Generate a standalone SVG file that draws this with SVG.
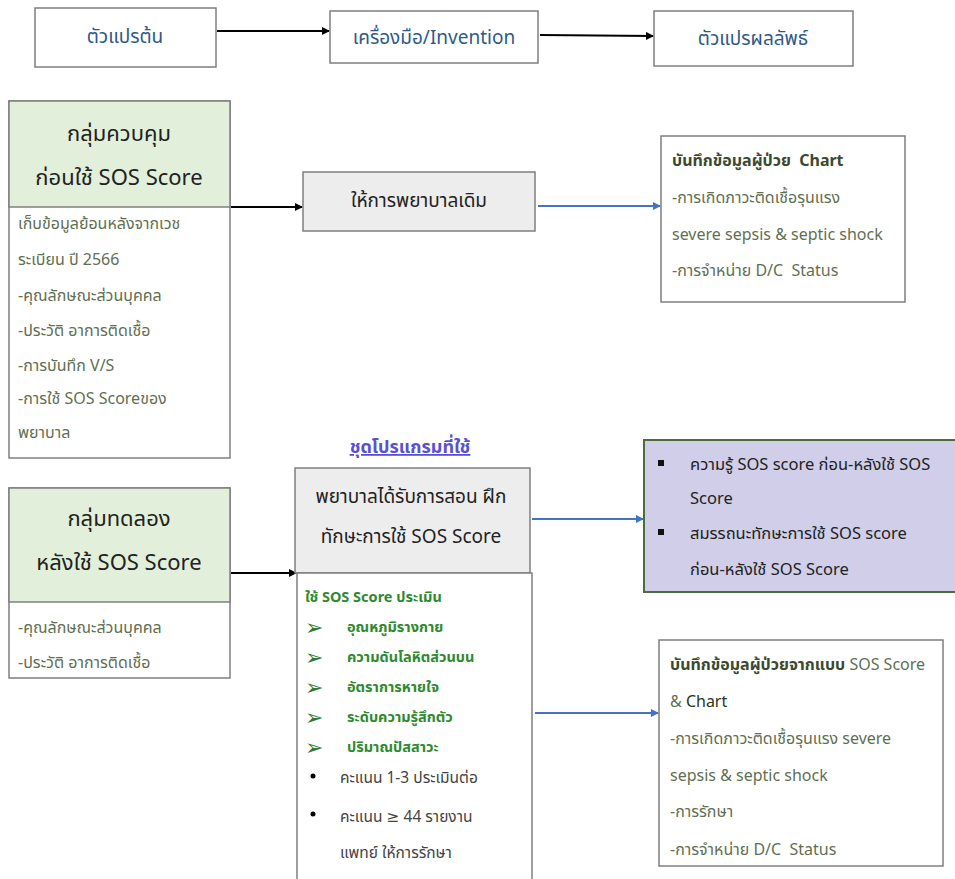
<svg xmlns="http://www.w3.org/2000/svg" width="955" height="879" viewBox="0 0 955 879">
<style>
text{font-family:"Noto Sans","Noto Sans Thai","DejaVu Sans",sans-serif;white-space:pre;}
.box{fill:#fff;stroke:#7f7f7f;stroke-width:1.5;}
.grey{fill:#ededed;stroke:#7f7f7f;stroke-width:1.5;}
.green{fill:#e2efda;stroke:#7f7f7f;stroke-width:1.5;}
.purple{fill:#d0cee8;stroke:#4e6b3c;stroke-width:2;}
.top{font-size:19px;fill:#2e5a88;text-anchor:middle;}
.head{font-size:22px;fill:#222;text-anchor:middle;}
.mid{font-size:19px;fill:#222;text-anchor:middle;}
.body{font-size:16px;fill:#5f6f52;}
.bold{font-size:16px;fill:#3b4a2e;font-weight:bold;}
.gb{font-size:14.5px;fill:#2f8a2f;font-weight:bold;}
.arr{font-size:22px;fill:#2f7a2f;}
.dk{font-size:15.5px;fill:#444;}
.pk{font-size:16.5px;fill:#222;}
.blk{stroke:#000;stroke-width:2;fill:none;}
.blu{stroke:#4472c4;stroke-width:2;fill:none;}
</style>
<defs>
<marker id="ab" markerWidth="8" markerHeight="8" refX="7" refY="4" orient="auto" markerUnits="userSpaceOnUse"><path d="M0,0 L8,4 L0,8 z" fill="#000"/></marker>
<marker id="au" markerWidth="8" markerHeight="8" refX="7" refY="4" orient="auto" markerUnits="userSpaceOnUse"><path d="M0,0 L8,4 L0,8 z" fill="#4472c4"/></marker>
</defs>

<g id="connectors">
<line class="blk" x1="217" y1="31" x2="329" y2="31" marker-end="url(#ab)"/>
<line class="blk" x1="540" y1="35" x2="653" y2="36" marker-end="url(#ab)"/>
<line class="blk" x1="231" y1="207" x2="302" y2="207" marker-end="url(#ab)"/>
<line class="blu" x1="538" y1="206" x2="660" y2="206" marker-end="url(#au)"/>
<line class="blk" x1="231" y1="573" x2="296" y2="573" marker-end="url(#ab)"/>
<line class="blu" x1="532" y1="519" x2="643" y2="519" marker-end="url(#au)"/>
<line class="blu" x1="535" y1="713" x2="658" y2="713" marker-end="url(#au)"/>
</g>

<g id="n-independent">
<rect class="box" x="35" y="8" width="181" height="59"/>
<text class="top" x="125" y="43">ตัวแปรต้น</text>
</g>
<g id="n-tool">
<rect class="box" x="330" y="11" width="208" height="52"/>
<text class="top" x="434" y="44">เครื่องมือ/Invention</text>
</g>
<g id="n-outcome">
<rect class="box" x="654" y="11" width="199" height="55"/>
<text class="top" x="753" y="45">ตัวแปรผลลัพธ์</text>
</g>

<g id="n-control">
<rect class="box" x="9" y="101" width="221" height="357"/>
<rect class="green" x="9" y="101" width="221" height="106"/>
<text class="head" x="119" y="141">กลุ่มควบคุม</text>
<text class="head" x="119" y="185">ก่อนใช้ SOS Score</text>
<text class="body" x="18" y="229">เก็บข้อมูลย้อนหลังจากเวช</text>
<text class="body" x="18" y="265">ระเบียน ปี 2566</text>
<text class="body" x="18" y="301">-คุณลักษณะส่วนบุคคล</text>
<text class="body" x="18" y="336">-ประวัติ อาการติดเชื้อ</text>
<text class="body" x="18" y="371">-การบันทึก V/S</text>
<text class="body" x="18" y="404">-การใช้ SOS Scoreของ</text>
<text class="body" x="18" y="438">พยาบาล</text>
</g>

<g id="n-usual">
<rect class="grey" x="303" y="172" width="232" height="59"/>
<text class="mid" x="419" y="207">ให้การพยาบาลเดิม</text>
</g>

<g id="n-out1">
<rect class="box" x="661" y="136" width="244" height="166"/>
<text class="bold" x="672" y="166">บันทึกข้อมูลผู้ป่วย  Chart</text>
<text class="body" x="672" y="203">-การเกิดภาวะติดเชื้อรุนแรง</text>
<text class="body" x="672" y="240">severe sepsis &amp; septic shock</text>
<text class="body" x="672" y="276">-การจำหน่าย D/C  Status</text>
</g>

<g id="n-program-title">
<text x="410" y="453" style="font-size:18px;fill:#5a50d8;font-weight:bold;text-anchor:middle;text-decoration:underline;">ชุดโปรแกรมที่ใช้</text>
</g>

<g id="n-training">
<rect class="grey" x="295" y="468" width="235" height="105"/>
<text class="mid" x="411" y="503">พยาบาลได้รับการสอน ฝึก</text>
<text class="mid" x="411" y="543">ทักษะการใช้ SOS Score</text>
</g>

<g id="n-assess">
<rect class="box" x="297" y="573" width="235" height="310"/>
<text class="gb" x="305" y="602">ใช้ SOS Score ประเมิน</text>
<g>
<text class="arr" x="305" y="635">➢</text><text class="gb" x="347" y="632">อุณหภูมิรางกาย</text>
<text class="arr" x="305" y="665">➢</text><text class="gb" x="347" y="662">ความดันโลหิตส่วนบน</text>
<text class="arr" x="305" y="695">➢</text><text class="gb" x="347" y="692">อัตราการหายใจ</text>
<text class="arr" x="305" y="725">➢</text><text class="gb" x="347" y="722">ระดับความรู้สึกตัว</text>
<text class="arr" x="305" y="755">➢</text><text class="gb" x="347" y="752">ปริมาณปัสสาวะ</text>
</g>
<circle cx="313" cy="776" r="2.5" fill="#000"/>
<text class="dk" x="340" y="783">คะแนน 1-3 ประเมินต่อ</text>
<circle cx="313" cy="814" r="2.5" fill="#000"/>
<text class="dk" x="340" y="822">คะแนน ≥ 44 รายงาน</text>
<text class="dk" x="340" y="858">แพทย์ ให้การรักษา</text>
</g>

<g id="n-experiment">
<rect class="box" x="9" y="488" width="221" height="190"/>
<rect class="green" x="9" y="488" width="221" height="114"/>
<text class="head" x="119" y="526">กลุ่มทดลอง</text>
<text class="head" x="119" y="570">หลังใช้ SOS Score</text>
<text class="body" x="18" y="633">-คุณลักษณะส่วนบุคคล</text>
<text class="body" x="18" y="668">-ประวัติ อาการติดเชื้อ</text>
</g>

<g id="n-knowledge">
<rect class="purple" x="644" y="440" width="315" height="152"/>
<rect x="658" y="460" width="6" height="6" fill="#111"/>
<text class="pk" x="690" y="470">ความรู้ SOS score ก่อน-หลังใช้ SOS</text>
<text class="pk" x="690" y="504">Score</text>
<rect x="658" y="529" width="6" height="6" fill="#111"/>
<text class="pk" x="690" y="539">สมรรถนะทักษะการใช้ SOS score</text>
<text class="pk" x="690" y="575">ก่อน-หลังใช้ SOS Score</text>
</g>

<g id="n-out2">
<rect class="box" x="659" y="640" width="284" height="226"/>
<text x="670" y="670"><tspan class="bold">บันทึกข้อมูลผู้ป่วยจากแบบ</tspan><tspan class="body"> SOS Score</tspan></text>
<text x="670" y="707"><tspan class="body">&amp; </tspan><tspan class="body" style="fill:#2a3520">Chart</tspan></text>
<text class="body" x="670" y="744">-การเกิดภาวะติดเชื้อรุนแรง severe</text>
<text class="body" x="670" y="781">sepsis &amp; septic shock</text>
<text class="body" x="670" y="817">-การรักษา</text>
<text class="body" x="670" y="855">-การจำหน่าย D/C  Status</text>
</g>
</svg>
